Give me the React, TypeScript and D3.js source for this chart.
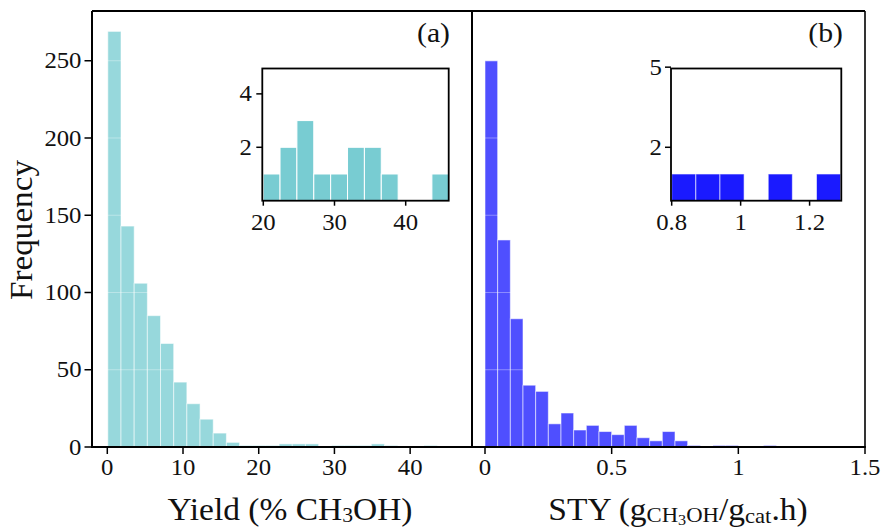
import React from 'react';
import * as d3 from 'd3';

// ---------- data ----------
const yTickValues = [0, 50, 100, 150, 200, 250];

const yieldCounts = [269, 143, 106, 85, 67, 42, 28, 18, 9, 3, 1, 1, 1, 2, 2, 2, 0, 1, 1, 1, 2, 1, 0, 0, 1];
const yieldBinStart = 0.07;
const yieldBinWidth = 1.74;
const yieldTicks = [0, 10, 20, 30, 40];

const styCounts = [250, 134, 83, 40, 36, 15, 22, 11, 14, 10, 8, 14, 6, 4, 10, 4, 1, 0, 1, 1, 0, 0, 1];
const styBinStart = 0;
const styBinWidth = 0.05;
const styTicks = [0, 0.5, 1, 1.5];
const styTickLabels = ['0', '0.5', '1', '1.5'];

const insetYieldCounts = [1, 2, 3, 1, 1, 2, 2, 1, 0, 0, 1];
const insetYieldStart = 19.98;
const insetYieldWidth = 2.37;
const insetYieldXTicks = [20, 30, 40];
const insetYieldYTicks = [2, 4];

const insetStyCounts = [1, 1, 1, 0, 1, 0, 1];
const insetStyStart = 0.8;
const insetStyWidth = 0.07;
const insetStyXTicks = [0.8, 1, 1.2];
const insetStyXLabels = ['0.8', '1', '1.2'];
const insetStyYTicks = [2, 5];

const tealColor = '#78CCD2';
const blueColor = '#1A1AFF';
const FONT = '"Liberation Serif", "Times New Roman", Times, serif';

type TProps = {
  x: number; y: number; size: number; anchor?: string; sx?: number; rotate?: number; children: React.ReactNode;
};
function T({ x, y, size, anchor = 'middle', sx = 1.1, rotate, children }: TProps) {
  const tr = `translate(${x},${y})${rotate ? ` rotate(${rotate})` : ''} scale(${sx},1)`;
  return (
    <g transform={tr}>
      <text x={0} y={0} fontSize={size} textAnchor={anchor as any} fontFamily={FONT} fill="#111">
        {children}
      </text>
    </g>
  );
}

function Bars({ counts, start, width, x, y, color, opacity, strokeOpacity }: any) {
  return (
    <g>
      {counts.map((c: number, i: number) => {
        if (c <= 0) return null;
        const x0 = x(start + i * width);
        const x1 = x(start + (i + 1) * width);
        return (
          <rect key={i} x={x0} y={y(c)} width={x1 - x0} height={y(0) - y(c)}
            fill={color} fillOpacity={opacity} stroke="#fff" strokeOpacity={strokeOpacity} strokeWidth={1} />
        );
      })}
    </g>
  );
}

export default function App() {
  const top = 11, bottom = 447, left = 92, mid = 472, right = 865;
  const yMain = d3.scaleLinear().domain([0, 282.2]).range([bottom, top]);
  const xYield = d3.scaleLinear().domain([-2.02, 48.17]).range([left, mid]);
  const xSty = d3.scaleLinear().domain([-0.0513, 1.5]).range([mid, right]);

  const insTop = 68.5, insBottom = 200.7;
  const xInsA = d3.scaleLinear().domain([19.86, 46.04]).range([262.3, 448.7]);
  const xInsB = d3.scaleLinear().domain([0.798, 1.292]).range([671, 841.3]);
  const yIns = d3.scaleLinear().domain([0, 4.95]).range([insBottom, insTop]);

  const tickSize = 22.5;
  const tickSx = 1.1;

  return (
    <svg width={881} height={529} style={{ position: 'absolute', left: 0, top: 0, background: '#fff' }}>
      <rect x={0} y={0} width={881} height={529} fill="#fff" />

      {/* main bars */}
      <Bars counts={yieldCounts} start={yieldBinStart} width={yieldBinWidth} x={xYield} y={yMain} color={tealColor} opacity={0.77} strokeOpacity={0.55} />
      <Bars counts={styCounts} start={styBinStart} width={styBinWidth} x={xSty} y={yMain} color={blueColor} opacity={0.77} strokeOpacity={0.55} />

      {/* faint white grid lines over bars */}
      {yTickValues.filter(v => v > 0).map(v => (
        <line key={'g' + v} x1={left} x2={right} y1={yMain(v)} y2={yMain(v)} stroke="#fff" strokeOpacity={0.35} strokeWidth={1} />
      ))}

      {/* frame */}
      <line x1={left} x2={right} y1={top} y2={top} stroke="#000" strokeWidth={1.8} />
      <line x1={right} x2={right} y1={top} y2={bottom} stroke="#000" strokeWidth={1.6} />
      <line x1={left} x2={left} y1={top} y2={bottom + 1} stroke="#000" strokeWidth={2} />
      <line x1={mid} x2={mid} y1={top} y2={bottom + 1} stroke="#000" strokeWidth={2} />
      <line x1={left - 1} x2={right + 0.8} y1={bottom} y2={bottom} stroke="#000" strokeWidth={2} />

      {/* y ticks */}
      {yTickValues.map(v => (
        <g key={'yt' + v}>
          <line x1={left - 7.5} x2={left} y1={yMain(v)} y2={yMain(v)} stroke="#000" strokeWidth={1.5} />
          <T x={81.5} y={yMain(v) + 7.6} size={tickSize} anchor="end" sx={tickSx}>{String(v)}</T>
        </g>
      ))}

      {/* x ticks yield */}
      {yieldTicks.map(v => (
        <g key={'xa' + v}>
          <line x1={xYield(v)} x2={xYield(v)} y1={bottom} y2={bottom + 7} stroke="#000" strokeWidth={1.5} />
          <T x={xYield(v)} y={475} size={tickSize} sx={tickSx}>{String(v)}</T>
        </g>
      ))}
      {/* x ticks sty */}
      {styTicks.map((v, i) => (
        <g key={'xb' + v}>
          <line x1={xSty(v)} x2={xSty(v)} y1={bottom} y2={bottom + 7} stroke="#000" strokeWidth={1.5} />
          <T x={xSty(v)} y={475} size={tickSize} sx={tickSx}>{styTickLabels[i]}</T>
        </g>
      ))}

      {/* axis titles */}
      <T x={290} y={520} size={31} sx={1.08}>
        <tspan>Yield (% CH</tspan>
        <tspan fontSize={20} dy={2}>3</tspan>
        <tspan dy={-2}>OH)</tspan>
      </T>
      <T x={678} y={520} size={31} sx={1.08}>
        <tspan>STY (g</tspan>
        <tspan fontSize={21} dy={2}>CH</tspan>
        <tspan fontSize={15} dy={3}>3</tspan>
        <tspan fontSize={21} dy={-3}>OH</tspan>
        <tspan dy={-2}>/g</tspan>
        <tspan fontSize={21} dy={3}>cat</tspan>
        <tspan dy={-3}>.h)</tspan>
      </T>
      <T x={32} y={230} size={31} sx={1.07} rotate={-90}>Frequency</T>

      {/* panel labels */}
      <T x={450} y={42} size={27} anchor="end" sx={1.1}>(a)</T>
      <T x={843} y={42} size={27} anchor="end" sx={1.1}>(b)</T>

      {/* inset a */}
      <rect x={xInsA.range()[0]} y={insTop} width={xInsA.range()[1] - xInsA.range()[0]} height={insBottom - insTop} fill="#fff" />
      <Bars counts={insetYieldCounts} start={insetYieldStart} width={insetYieldWidth} x={xInsA} y={yIns} color={tealColor} opacity={1} strokeOpacity={1} />
      <rect x={xInsA.range()[0]} y={insTop} width={xInsA.range()[1] - xInsA.range()[0]} height={insBottom - insTop} fill="none" stroke="#000" strokeWidth={1.8} />
      {insetYieldYTicks.map(v => (
        <g key={'iay' + v}>
          <line x1={xInsA.range()[0] - 6} x2={xInsA.range()[0]} y1={yIns(v)} y2={yIns(v)} stroke="#000" strokeWidth={1.5} />
          <T x={252} y={yIns(v) + 7.6} size={tickSize} anchor="end" sx={tickSx}>{String(v)}</T>
        </g>
      ))}
      {insetYieldXTicks.map(v => (
        <g key={'iax' + v}>
          <line x1={xInsA(v)} x2={xInsA(v)} y1={insBottom} y2={insBottom + 5} stroke="#000" strokeWidth={1.5} />
          <T x={xInsA(v)} y={230} size={tickSize} sx={tickSx}>{String(v)}</T>
        </g>
      ))}

      {/* inset b */}
      <rect x={xInsB.range()[0]} y={insTop} width={xInsB.range()[1] - xInsB.range()[0]} height={insBottom - insTop} fill="#fff" />
      <Bars counts={insetStyCounts} start={insetStyStart} width={insetStyWidth} x={xInsB} y={yIns} color={blueColor} opacity={1} strokeOpacity={0.6} />
      <rect x={xInsB.range()[0]} y={insTop} width={xInsB.range()[1] - xInsB.range()[0]} height={insBottom - insTop} fill="none" stroke="#000" strokeWidth={1.8} />
      {insetStyYTicks.map(v => (
        <g key={'iby' + v}>
          <line x1={xInsB.range()[0] - 6} x2={xInsB.range()[0]} y1={yIns(v)} y2={yIns(v)} stroke="#000" strokeWidth={1.5} />
          <T x={662} y={yIns(v) + 7.6} size={tickSize} anchor="end" sx={tickSx}>{String(v)}</T>
        </g>
      ))}
      {insetStyXTicks.map((v, i) => (
        <g key={'ibx' + v}>
          <line x1={xInsB(v)} x2={xInsB(v)} y1={insBottom} y2={insBottom + 5} stroke="#000" strokeWidth={1.5} />
          <T x={xInsB(v)} y={230} size={tickSize} sx={tickSx}>{insetStyXLabels[i]}</T>
        </g>
      ))}
    </svg>
  );
}
